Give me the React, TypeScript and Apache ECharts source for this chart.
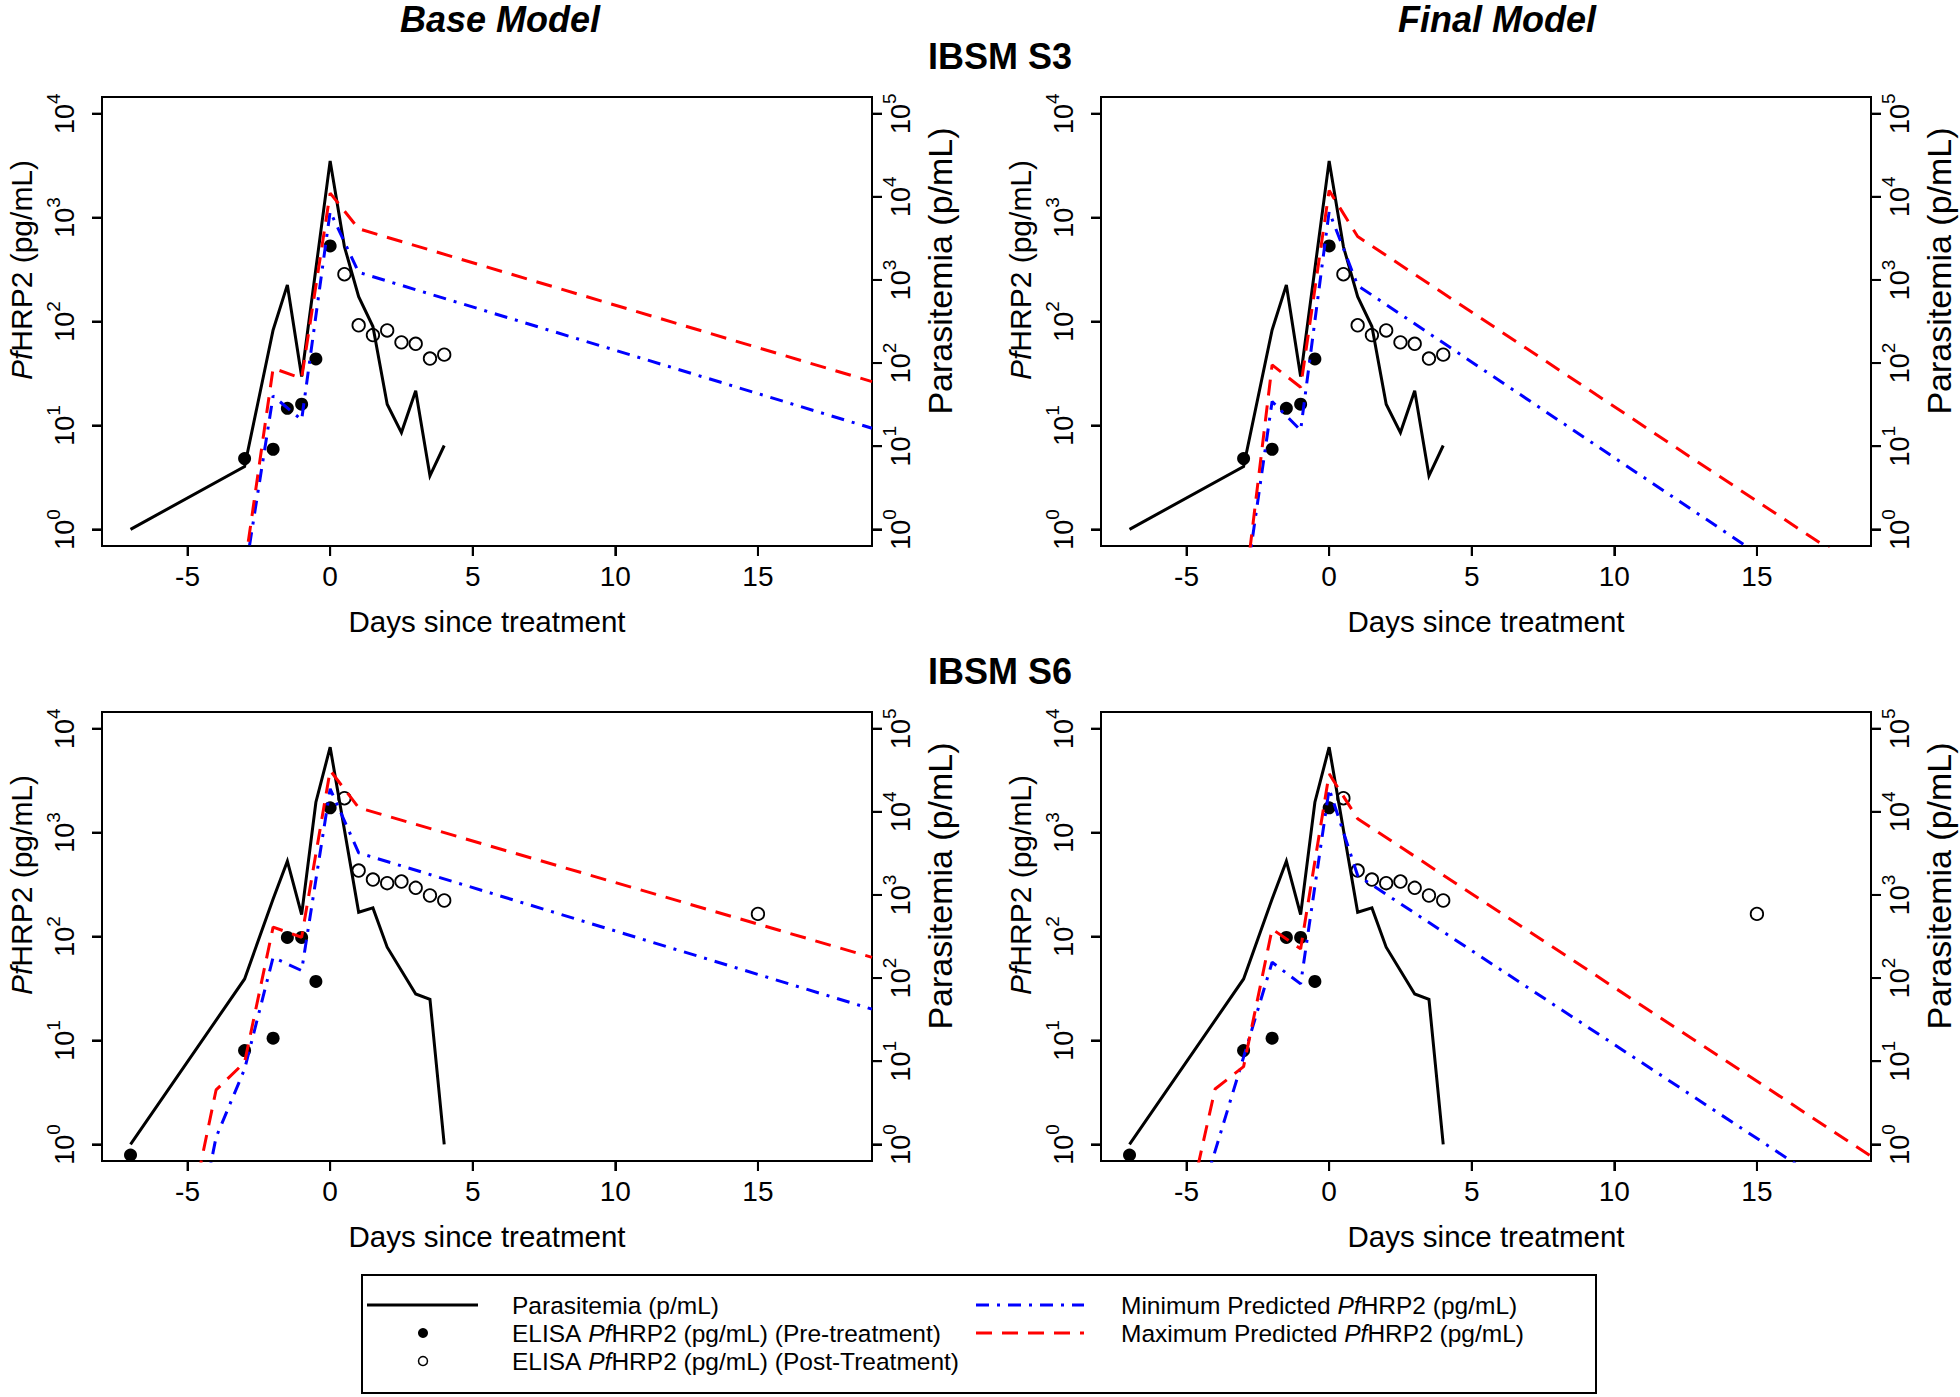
import React, { useEffect, useRef } from 'react';
import * as echarts from 'echarts';

const FONT = '"Liberation Sans", Arial, Helvetica, sans-serif';

// ---------- IBSM S3 ----------
const s3ParaDays = [-7, -3, -2, -1.5, -1, 0, 0.5, 1, 1.5, 2, 2.5, 3, 3.5, 4];
const s3Para = [1, 5.7, 250, 871, 69, 27000, 2520, 630, 275, 32, 14.6, 46.6, 4.4, 10.2];
const s3PreDays = [-3, -2, -1.5, -1, -0.5, 0];
const s3Pre = [4.8, 5.9, 14.6, 16, 43.6, 534];
const s3PostDays = [0.5, 1, 1.5, 2, 2.5, 3, 3.5, 4];
const s3Post = [285, 92, 74, 82, 63, 61, 44, 48];
const s3PredDays = [-3, -2, -1, 0, 1, 19];
const s3BaseMax = [0.43, 35.5, 28.4, 1718, 780, 26.4];
const s3BaseMin = [0.35, 19.2, 11.3, 1143, 297, 9.4];
const s3FinalMax = [0.2, 38.2, 23.3, 1823, 657, 0.35];
const s3FinalMin = [0.21, 17, 9.0, 1143, 222, 0.108];

// ---------- IBSM S6 ----------
const s6ParaDays = [-7, -3, -2, -1.5, -1, -0.5, 0, 1, 1.5, 2, 3, 3.5, 4];
const s6Para = [1, 97.6, 896, 2543, 580, 13040, 59900, 619, 698, 235, 64.4, 55.6, 1];
const s6PreDays = [-7, -3, -2, -1.5, -1, -0.5, 0];
const s6Pre = [0.79, 8.0, 10.5, 98, 98, 37, 1730];
const s6PostDays = [0.5, 1, 1.5, 2, 2.5, 3, 3.5, 4, 15];
const s6Post = [2140, 431, 353, 326, 338, 294, 248, 222, 165];
const s6PredDays = [-5, -4, -3, -2, -1, 0, 1, 19];
const s6BaseMax = [0.16, 3.34, 6.16, 123, 98.4, 3960, 1735, 63];
const s6BaseMin = [0.05, 1.17, 5.3, 63, 47, 2637, 638, 20];
const s6FinalMax = [0.2, 3.41, 5.6, 118, 76, 3680, 1356, 0.77];
const s6FinalMin = [0.107, 0.86, 6.9, 56.5, 35, 2637, 386, 0.216];

// ---------- axes ----------
const xTicks = [-5, 0, 5, 10, 15];
const leftExp = [0, 1, 2, 3, 4];
const rightExp = [0, 1, 2, 3, 4, 5];
const X_MIN = -8;
const X_MAX = 19;
const L_MIN = -0.16;
const L_MAX = 4.16;
const R_MIN = -0.2;
const R_MAX = 5.2;

const panels = [
  { left: 102, top: 97, paraDays: s3ParaDays, para: s3Para, preDays: s3PreDays, pre: s3Pre, postDays: s3PostDays, post: s3Post, predDays: s3PredDays, max: s3BaseMax, min: s3BaseMin },
  { left: 1101, top: 97, paraDays: s3ParaDays, para: s3Para, preDays: s3PreDays, pre: s3Pre, postDays: s3PostDays, post: s3Post, predDays: s3PredDays, max: s3FinalMax, min: s3FinalMin },
  { left: 102, top: 712, paraDays: s6ParaDays, para: s6Para, preDays: s6PreDays, pre: s6Pre, postDays: s6PostDays, post: s6Post, predDays: s6PredDays, max: s6BaseMax, min: s6BaseMin },
  { left: 1101, top: 712, paraDays: s6ParaDays, para: s6Para, preDays: s6PreDays, pre: s6Pre, postDays: s6PostDays, post: s6Post, predDays: s6PredDays, max: s6FinalMax, min: s6FinalMin },
];

const PW = 770;
const PH = 449;
const TICK = 10;

const pairs = (xs: number[], ys: number[]) => xs.map((x, i) => [x, Math.log10(ys[i])]);

const expRich = {
  b: { fontSize: 27, fontFamily: FONT, color: '#000', lineHeight: 34, verticalAlign: 'bottom' },
  s: { fontSize: 19, fontFamily: FONT, color: '#000', lineHeight: 16, verticalAlign: 'top' },
};

const tickStyle = { show: true, length: TICK, inside: false, lineStyle: { color: '#000', width: 2 } };
const lineStyle = { show: true, onZero: false, lineStyle: { color: '#000', width: 2 } };

function buildOption() {
  const grid: any[] = [];
  const xAxis: any[] = [];
  const yAxis: any[] = [];
  const series: any[] = [];
  const graphic: any[] = [];

  const vText = (children: string, x: number, y: number, size: number, rich?: any) => ({
    type: 'text', x, y, rotation: Math.PI / 2, silent: true,
    style: {
      text: children, rich, fontSize: size, fontFamily: FONT, fill: '#000',
      align: 'center', verticalAlign: 'middle',
    },
  });
  const nameRich = {
    i: { fontSize: 30, fontFamily: FONT, fontStyle: 'italic', fill: '#000', color: '#000' },
    n: { fontSize: 30, fontFamily: FONT, fill: '#000', color: '#000' },
  };

  const tickSeries = (i: number, yIdx: number, data: number[][], size: number[], offset: number[]) => ({
    type: 'scatter', xAxisIndex: i, yAxisIndex: yIdx, data, symbol: 'rect',
    symbolSize: size, symbolOffset: offset, clip: false, silent: true,
    itemStyle: { color: '#000', opacity: 1 }, z: 1, tooltip: { show: false },
  });

  panels.forEach((p, i) => {
    grid.push({
      left: p.left, top: p.top, width: PW, height: PH,
      show: true, borderColor: '#000', borderWidth: 2, backgroundColor: 'transparent',
    });
    xAxis.push({
      gridIndex: i, type: 'value', min: X_MIN, max: X_MAX, position: 'bottom',
      axisLine: lineStyle,
      splitLine: { show: false },
      axisTick: { ...tickStyle, customValues: xTicks },
      axisLabel: { customValues: xTicks, fontSize: 28, fontFamily: FONT, color: '#000', margin: 16 },
      name: 'Days since treatment', nameLocation: 'middle', nameGap: 60,
      nameTextStyle: { fontSize: 29.5, fontFamily: FONT, color: '#000' },
    });
    yAxis.push({
      gridIndex: i, type: 'value', position: 'left', min: L_MIN, max: L_MAX,
      axisLine: lineStyle,
      splitLine: { show: false },
      axisTick: { ...tickStyle, customValues: leftExp },
      axisLabel: {
        customValues: leftExp, rotate: 90, margin: 24,
        formatter: (v: number) => `{b|10}{s|${Math.round(v)}}`, rich: expRich,
      },
    });
    yAxis.push({
      gridIndex: i, type: 'value', position: 'right', min: R_MIN, max: R_MAX,
      axisLine: lineStyle,
      splitLine: { show: false },
      axisTick: { ...tickStyle, customValues: rightExp },
      axisLabel: {
        customValues: rightExp, rotate: 90, margin: 8,
        formatter: (v: number) => `{b|10}{s|${Math.round(v)}}`, rich: expRich,
      },
    });

    // axis titles (placed like the R mtext titles)
    const dx = p.left - 102;
    const cy = p.top + 173;
    graphic.push(vText('{i|Pf}{n|HRP2 (pg/mL)}', 21 + dx, cy, 30, nameRich));
    graphic.push(vText('Parasitemia (p/mL)', 940 + dx, cy + 1, 34));

    // outward tick marks, positioned by the axes' own scales
    series.push(tickSeries(i, 2 * i, xTicks.map((v) => [v, L_MIN]), [2, TICK], [0, TICK / 2]));
    series.push(tickSeries(i, 2 * i, leftExp.map((e) => [X_MIN, e]), [TICK, 2], [-TICK / 2, 0]));
    series.push(tickSeries(i, 2 * i + 1, rightExp.map((e) => [X_MAX, e]), [TICK, 2], [TICK / 2, 0]));

    series.push({
      name: 'Parasitemia (p/mL)', type: 'line', xAxisIndex: i, yAxisIndex: 2 * i + 1,
      data: pairs(p.paraDays, p.para), symbol: 'none', clip: true,
      lineStyle: { color: '#000', width: 3, join: 'miter' }, z: 2,
    });
    series.push({
      name: 'ELISA PfHRP2 (pg/mL) (Pre-treatment)', type: 'scatter', xAxisIndex: i, yAxisIndex: 2 * i,
      data: pairs(p.preDays, p.pre), symbol: 'circle', symbolSize: 13,
      itemStyle: { color: '#000', opacity: 1 }, z: 3,
    });
    series.push({
      name: 'ELISA PfHRP2 (pg/mL) (Post-Treatment)', type: 'scatter', xAxisIndex: i, yAxisIndex: 2 * i,
      data: pairs(p.postDays, p.post), symbol: 'circle', symbolSize: 12.5,
      itemStyle: { color: 'rgba(0,0,0,0)', borderColor: '#000', borderWidth: 1.8, opacity: 1 }, z: 3,
    });
    series.push({
      name: 'Minimum Predicted PfHRP2 (pg/mL)', type: 'line', xAxisIndex: i, yAxisIndex: 2 * i,
      data: pairs(p.predDays, p.min), symbol: 'none', clip: true,
      lineStyle: { color: '#0000ff', width: 3, type: [13, 8, 3, 8] }, z: 4,
    });
    series.push({
      name: 'Maximum Predicted PfHRP2 (pg/mL)', type: 'line', xAxisIndex: i, yAxisIndex: 2 * i,
      data: pairs(p.predDays, p.max), symbol: 'none', clip: true,
      lineStyle: { color: '#ff0000', width: 3, type: [16, 10] }, z: 5,
    });
  });

  const txt = (text: string, x: number, y: number, size: number, weight: string, style: string) => ({
    type: 'text', x, y, silent: true,
    style: {
      text, fontSize: size, fontWeight: weight, fontStyle: style, fontFamily: FONT, fill: '#000',
      align: 'center', verticalAlign: 'middle',
    },
  });

  const legendRich = {
    n: { fontSize: 24.5, fontFamily: FONT, fill: '#000', color: '#000' },
    i: { fontSize: 24.5, fontFamily: FONT, fontStyle: 'italic', fill: '#000', color: '#000' },
  };
  const legTxt = (text: string, x: number, y: number) => ({
    type: 'text', x, y, silent: true,
    style: { text, rich: legendRich, fontSize: 24.5, fontFamily: FONT, fill: '#000', align: 'left', verticalAlign: 'middle' },
  });

  graphic.push(
    txt('Base Model', 500, 19, 36, 'bold', 'italic'),
    txt('Final Model', 1497, 19, 36, 'bold', 'italic'),
    txt('IBSM S3', 1000, 56, 36, 'bold', 'normal'),
    txt('IBSM S6', 1000, 671, 36, 'bold', 'normal'),
    // legend box
    { type: 'rect', shape: { x: 362, y: 1275, width: 1234, height: 118 }, style: { fill: 'none', stroke: '#000', lineWidth: 2 }, silent: true },
    { type: 'line', shape: { x1: 367, y1: 1305, x2: 478, y2: 1305 }, style: { stroke: '#000', lineWidth: 3 }, silent: true },
    { type: 'circle', shape: { cx: 423, cy: 1333, r: 5 }, style: { fill: '#000' }, silent: true },
    { type: 'circle', shape: { cx: 423, cy: 1361, r: 4.5 }, style: { fill: 'none', stroke: '#000', lineWidth: 1.5 }, silent: true },
    { type: 'line', shape: { x1: 976, y1: 1305, x2: 1084, y2: 1305 }, style: { stroke: '#0000ff', lineWidth: 3, lineDash: [13, 8, 3, 8] }, silent: true },
    { type: 'line', shape: { x1: 976, y1: 1333, x2: 1084, y2: 1333 }, style: { stroke: '#ff0000', lineWidth: 3, lineDash: [16, 10] }, silent: true },
    legTxt('{n|Parasitemia (p/mL)}', 512, 1305),
    legTxt('{n|ELISA }{i|Pf}{n|HRP2 (pg/mL) (Pre-treatment)}', 512, 1333),
    legTxt('{n|ELISA }{i|Pf}{n|HRP2 (pg/mL) (Post-Treatment)}', 512, 1361),
    legTxt('{n|Minimum Predicted }{i|Pf}{n|HRP2 (pg/mL)}', 1121, 1305),
    legTxt('{n|Maximum Predicted }{i|Pf}{n|HRP2 (pg/mL)}', 1121, 1333),
  );

  return {
    animation: false,
    backgroundColor: '#fff',
    textStyle: { fontFamily: FONT },
    grid, xAxis, yAxis, series, graphic,
  };
}

export default function App() {
  const ref = useRef<HTMLDivElement>(null);
  useEffect(() => {
    const chart = echarts.init(ref.current!, null, { renderer: 'svg' });
    chart.setOption(buildOption() as any);
    return () => chart.dispose();
  }, []);
  return (
    <div
      ref={ref}
      style={{ position: 'fixed', left: 0, top: 0, width: 1960, height: 1397, background: '#fff' }}
    />
  );
}
